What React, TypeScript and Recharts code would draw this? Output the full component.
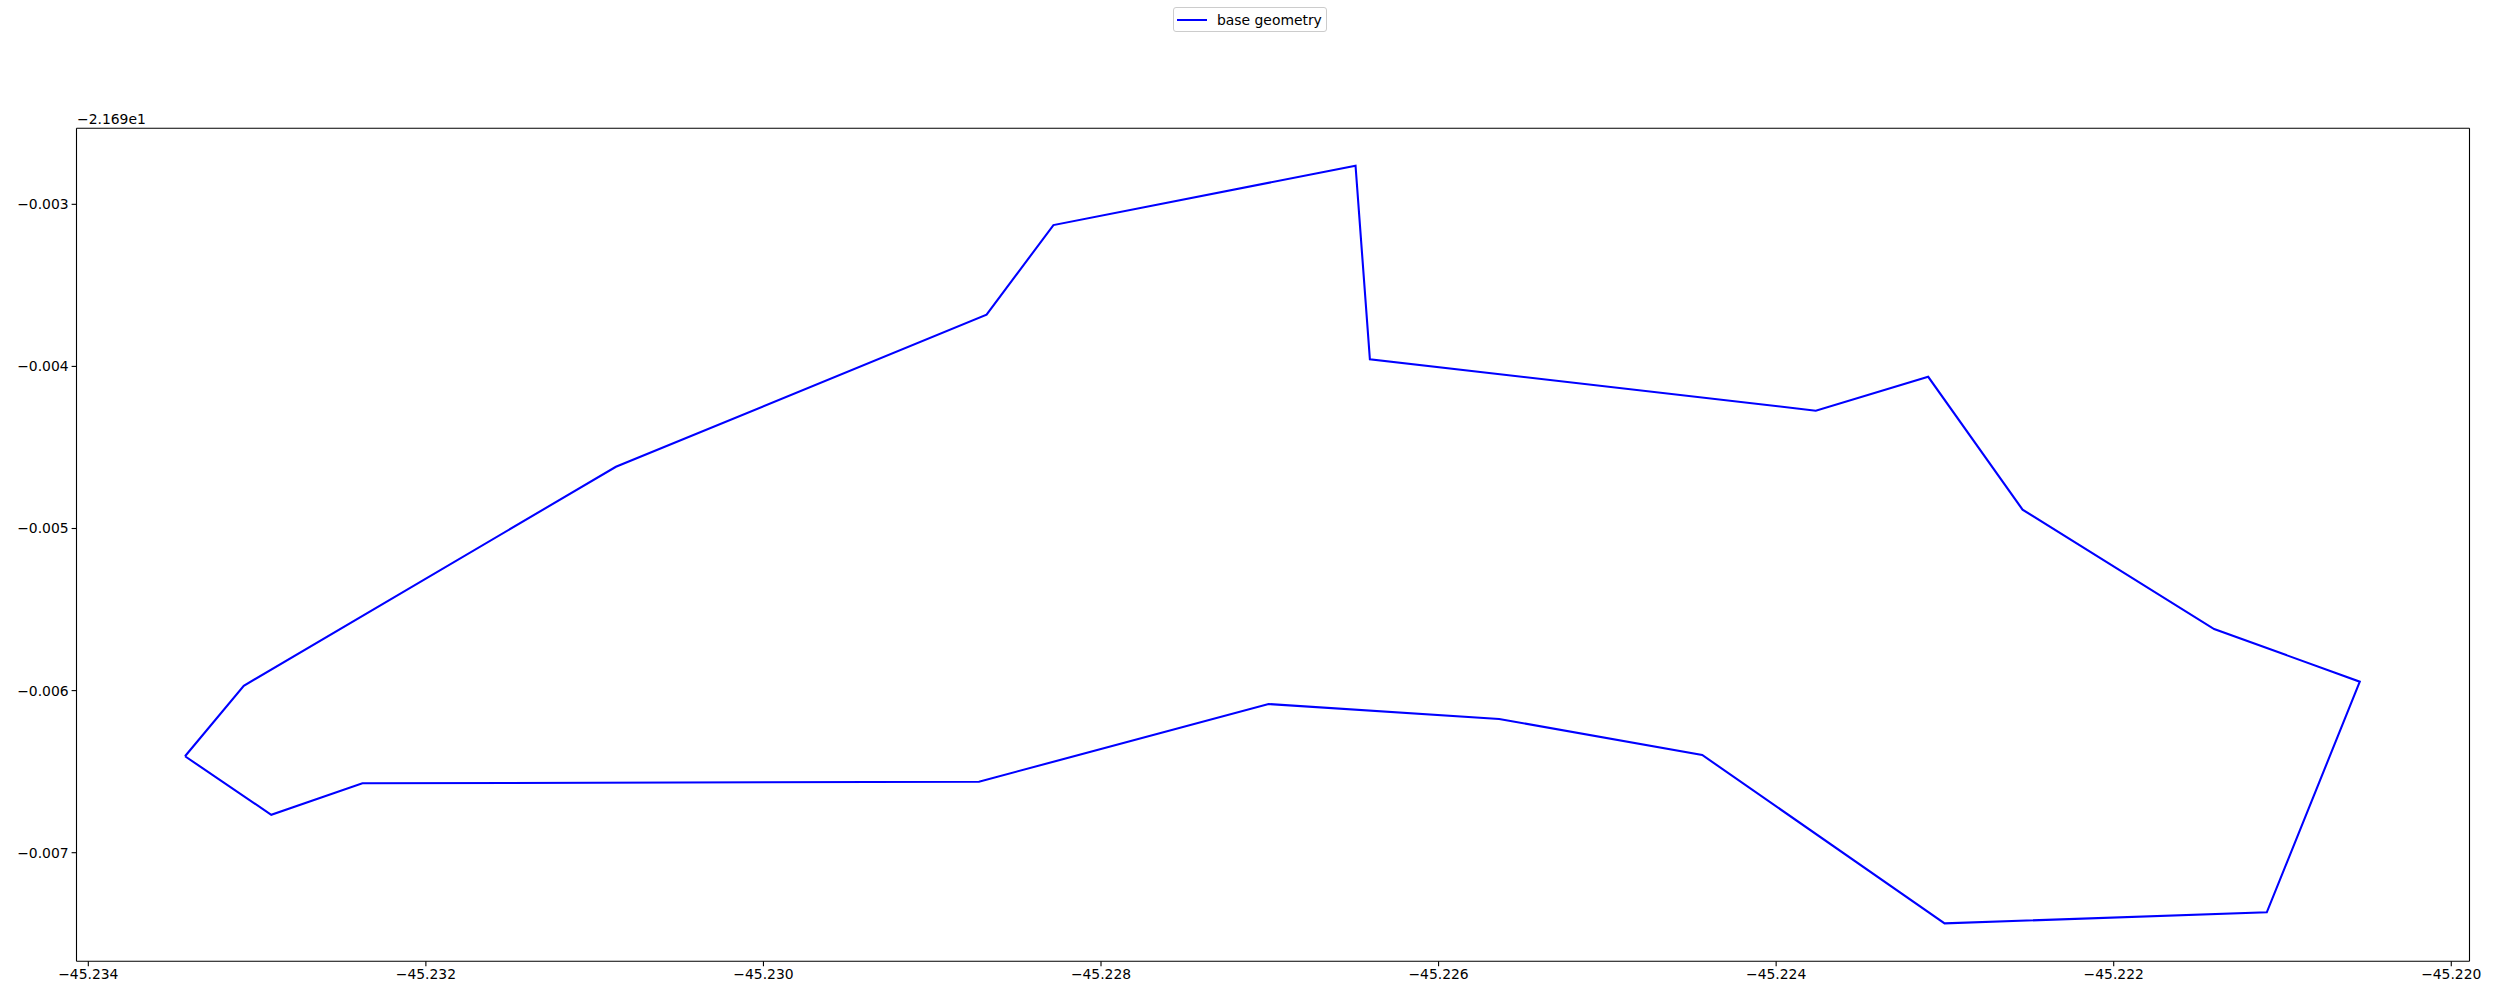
import { LineChart, Line, XAxis, YAxis, Legend } from "recharts";

// y values are relative to the -21.69 offset shown above the axis.
const LON = [
  -45.233427, -45.233079, -45.230874, -45.228678, -45.228282, -45.226492, -45.226407,
  -45.223765, -45.223099, -45.22254, -45.221405, -45.220542, -45.221093, -45.223002,
  -45.224438, -45.225641, -45.227007, -45.228723, -45.232376, -45.232916, -45.233427,
];
const LAT = [
  -0.006405, -0.00597, -0.004619, -0.003681, -0.003128, -0.002762, -0.003956,
  -0.004273, -0.004064, -0.004884, -0.00562, -0.005945, -0.007368, -0.007436,
  -0.006397, -0.006175, -0.006083, -0.006562, -0.006572, -0.006766, -0.006405,
];
const X_TICKS = [-45.234, -45.232, -45.23, -45.228, -45.226, -45.224, -45.222, -45.22];
const Y_TICKS = [-0.003, -0.004, -0.005, -0.006, -0.007];
const X_DOMAIN = [-45.23407, -45.219892];
const Y_DOMAIN = [-0.00767, -0.002531];
const OFFSET_LABEL = "\u22122.169e1";
const SERIES_NAME = "base geometry";

const FONT = "'DejaVu Sans'";
const tickStyle = { fontFamily: FONT, fontSize: 13.9, fill: "#000" };
const axisStyle = { stroke: "#000", strokeWidth: 1.1 };

const data = LON.map((lon, i) => ({ lon, lat: LAT[i] }));
const fmt = (v: number) => "\u2212" + Math.abs(v).toFixed(3);

function FigLegend() {
  return (
    <div
      style={{
        boxSizing: "border-box", width: 154, height: 25, border: "1px solid #cccccc", borderRadius: 3,
        background: "#fff", display: "flex", alignItems: "center", paddingLeft: 3,
        fontFamily: FONT, fontSize: 13.9, color: "#000",
      }}
    >
      <span style={{ display: "inline-block", width: 30, height: 2, background: "#0000ff", marginRight: 10 }} />
      <span>{SERIES_NAME}</span>
    </div>
  );
}

export default function App() {
  return (
    <div style={{ position: "absolute", left: 0, top: 0, width: 2500, height: 1000, background: "#fff" }}>
      <LineChart width={2500} height={1000} data={data} margin={{ top: 118.3, right: 0, bottom: 0, left: 0 }}>
        <XAxis
          dataKey="lon" type="number" domain={X_DOMAIN} ticks={X_TICKS} tickFormatter={fmt} allowDataOverflow
          height={38.7} interval={0} tick={tickStyle} tickSize={4.9} tickMargin={3} axisLine={axisStyle} tickLine={axisStyle}
        />
        <XAxis
          xAxisId="top" orientation="top" type="number" domain={X_DOMAIN} height={10}
          tick={false} tickLine={false} axisLine={axisStyle}
        />
        <YAxis
          type="number" domain={Y_DOMAIN} ticks={Y_TICKS} tickFormatter={fmt} allowDataOverflow
          width={76.5} interval={0} tick={tickStyle} tickSize={4.9} tickMargin={3} axisLine={axisStyle} tickLine={axisStyle}
        />
        <YAxis
          yAxisId="right" orientation="right" type="number" domain={Y_DOMAIN} width={30.5}
          tick={false} tickLine={false} axisLine={axisStyle}
        />
        <Legend
          verticalAlign="middle" align="center" content={<FigLegend />}
          wrapperStyle={{ position: "absolute", left: 1173, top: 7, width: 154, height: 25 }}
        />
        <Line
          dataKey="lat" name={SERIES_NAME} type="linear" stroke="#0000ff" strokeWidth={2.08}
          dot={false} activeDot={false} isAnimationActive={false}
        />
        <text x={77} y={123.5} style={tickStyle}>{OFFSET_LABEL}</text>
      </LineChart>
    </div>
  );
}
